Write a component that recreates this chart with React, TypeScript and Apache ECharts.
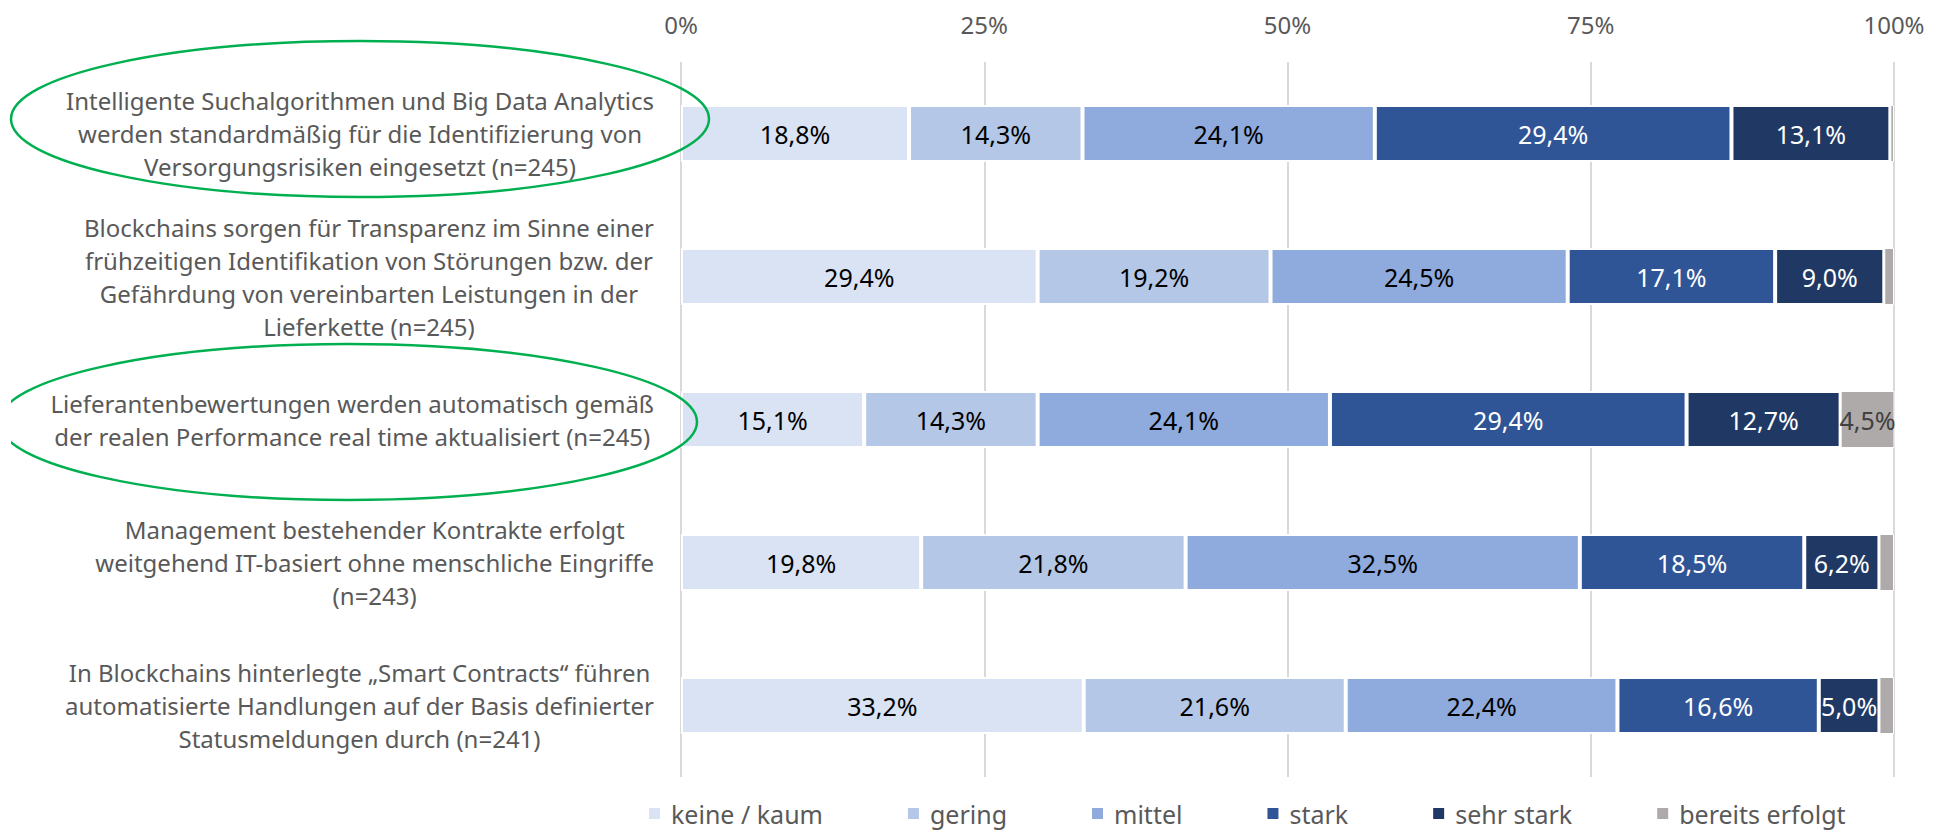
import React, { useEffect, useRef } from "react";
import * as echarts from "echarts";

const categories = [
  "Intelligente Suchalgorithmen und Big Data Analytics\nwerden standardmäßig für die Identifizierung von\nVersorgungsrisiken eingesetzt (n=245)",
  "Blockchains sorgen für Transparenz im Sinne einer\nfrühzeitigen Identifikation von Störungen bzw. der\nGefährdung von vereinbarten Leistungen in der\nLieferkette (n=245)",
  "Lieferantenbewertungen werden automatisch gemäß\nder realen Performance real time aktualisiert (n=245)",
  "Management bestehender Kontrakte erfolgt\nweitgehend IT-basiert ohne menschliche Eingriffe\n(n=243)",
  "In Blockchains hinterlegte „Smart Contracts“ führen\nautomatisierte Handlungen auf der Basis definierter\nStatusmeldungen durch (n=241)",
];

const seriesNames = ["keine / kaum", "gering", "mittel", "stark", "sehr stark", "bereits erfolgt"];

const keineKaum = [18.8, 29.4, 15.1, 19.8, 33.2];
const gering = [14.3, 19.2, 14.3, 21.8, 21.6];
const mittel = [24.1, 24.5, 24.1, 32.5, 22.4];
const stark = [29.4, 17.1, 29.4, 18.5, 16.6];
const sehrStark = [13.1, 9.0, 12.7, 6.2, 5.0];
const bereitsErfolgt = [0.3, 0.8, 4.5, 1.2, 1.2];

const xTicks = [0, 25, 50, 75, 100];

const seriesValues = [keineKaum, gering, mittel, stark, sehrStark, bereitsErfolgt];
const colors = ["#DAE3F3", "#B4C7E7", "#8FAADC", "#2F5597", "#203864", "#AEAAAA"];
const labelColors = ["#000000", "#000000", "#000000", "#FFFFFF", "#FFFFFF", "#404040"];
const borderWidths = [2, 2, 2, 2, 2, 1];

const FONT = "Noto Sans";

export default function App() {
  const ref = useRef<HTMLDivElement>(null);

  useEffect(() => {
    if (!ref.current) return;
    const chart = echarts.init(ref.current, undefined, { renderer: "svg" });

    const series = seriesNames.map((name, i) => ({
      name,
      type: "bar",
      stack: "total",
      barWidth: 57,
      data: seriesValues[i],
      itemStyle: { color: colors[i], borderColor: "#FFFFFF", borderWidth: borderWidths[i] },
      label: {
        show: true,
        position: "inside",
        color: labelColors[i],
        fontSize: 25,
        fontFamily: FONT,
        formatter: (p: any) =>
          p.value >= 2 ? p.value.toFixed(1).replace(".", ",") + "%" : "",
      },
      emphasis: { disabled: true },
    }));

    chart.setOption({
      animation: false,
      backgroundColor: "#FFFFFF",
      textStyle: { fontFamily: FONT },
      grid: { left: 681, right: 51, top: 62, bottom: 60, containLabel: false },
      xAxis: {
        type: "value",
        position: "top",
        min: xTicks[0],
        max: xTicks[xTicks.length - 1],
        interval: 25,
        axisLine: { show: false },
        axisTick: { show: false },
        axisLabel: {
          formatter: "{value}%",
          fontSize: 24,
          color: "#595959",
          fontFamily: FONT,
          margin: 26,
        },
        splitLine: { show: true, lineStyle: { color: "#D9D9D9", width: 2 } },
      },
      yAxis: {
        type: "category",
        inverse: true,
        data: categories,
        axisLine: { show: false },
        axisTick: { show: false },
        axisLabel: {
          margin: 27,
          align: "right",
          formatter: (v: string) =>
            v
              .split("\n")
              .map((l) => `{c|${l}}`)
              .join("\n"),
          rich: {
            c: {
              align: "center",
              fontSize: 24,
              lineHeight: 33,
              color: "#595959",
              fontFamily: FONT,
            },
          },
        },
      },
      legend: {
        data: seriesNames,
        left: 642,
        top: 796,
        itemWidth: 13,
        itemHeight: 13,
        itemGap: 83,
        icon: "rect",
        textStyle: {
          fontSize: 25,
          color: "#595959",
          fontFamily: FONT,
          padding: [0, 0, 0, 5],
        },
        selectedMode: false,
      },
      graphic: [
        {
          type: "ellipse",
          shape: { cx: 360, cy: 119, rx: 349, ry: 78 },
          style: { fill: "none", stroke: "#00B050", lineWidth: 2.5 },
          z: 100,
        },
        {
          type: "ellipse",
          shape: { cx: 348, cy: 422, rx: 349, ry: 78 },
          style: { fill: "none", stroke: "#00B050", lineWidth: 2.5 },
          z: 100,
        },
        {
          type: "rect",
          shape: { x: 0, y: 395, width: 11, height: 55 },
          style: { fill: "#FFFFFF" },
          z: 101,
        },
      ],
      series,
    });

    return () => chart.dispose();
  }, []);

  return (
    <div
      ref={ref}
      style={{ position: "fixed", left: 0, top: 0, width: 1945, height: 837 }}
    />
  );
}
